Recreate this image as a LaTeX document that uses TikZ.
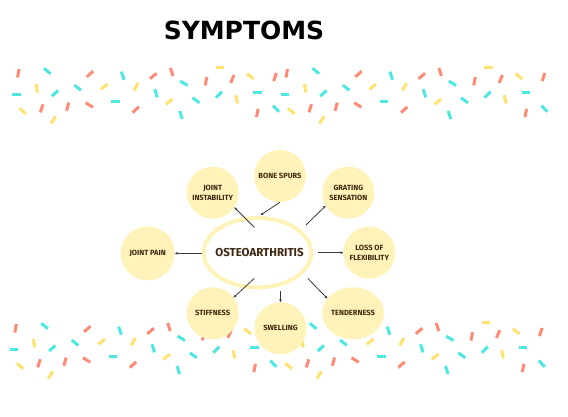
\documentclass[tikz,border=0pt]{standalone}
\usepackage{fontspec}
\setmainfont{Fira Sans}
\newfontfamily\titlefont{DejaVu Sans}
\usetikzlibrary{shapes.geometric,calc,arrows.meta}

\definecolor{bubbleyellow}{HTML}{FFF3B9}
\definecolor{labelbrown}{HTML}{3F2710}
\definecolor{linkgray}{HTML}{3A3A3A}
\definecolor{sprRed}{HTML}{FF8B76}
\definecolor{sprCyan}{HTML}{4DE9E1}
\definecolor{sprYellow}{HTML}{FFE270}

% one tile of sprinkles, shifted by #1,#2
\newcommand{\sprinkles}[2]{%
  \foreach \px/\py/\ang/\col in {
    18.3/73.3/-80/sprRed, 47.3/71/40/sprCyan, 16.7/94.3/0/sprCyan,
    36.7/88.3/80/sprYellow, 22.7/111/40/sprYellow, 41.7/108.3/-72/sprRed,
    55/93.3/-42/sprCyan, 53.3/120/-58/sprYellow, 67.7/106.7/-75/sprRed,
    77.7/87.7/38/sprCyan, 90/74/-42/sprRed, 89.3/105/32/sprRed,
    104.3/86.7/-38/sprYellow, 115.7/101.3/0/sprCyan, 122.7/75.7/72/sprCyan,
    136/86.7/-60/sprYellow, 135.7/109.7/-42/sprRed, 153.3/76/-40/sprRed,
    156/93.3/74/sprCyan, 171.7/72/73/sprRed, 184/83.3/31/sprCyan,
    169.3/101.7/-38/sprYellow, 181/115/73/sprCyan, 196/100.3/36/sprCyan,
    206/81.3/-79/sprRed, 220/67.3/0/sprYellow, 219/94.7/-44/sprCyan,
    232.3/79/-67/sprRed, 236.7/99.3/77/sprYellow, 250.3/76.3/39/sprYellow,
    257.3/92.7/0/sprCyan, 257.3/113/-79/sprRed, 275/77/-72/sprRed,
    276/108.7/46/sprCyan}
  {
    \draw[sprinkle, draw=\col] (\px+#1,\py+#2) ++(\ang:-4.25) -- ++(\ang:8.5);
  }%
}

\tikzset{
  bubble/.style={circle, fill=bubbleyellow, minimum size=52pt, inner sep=0pt,
    align=center, text=labelbrown, font=\bfseries\fontsize{7.5}{9.7}\selectfont},
  link/.style={draw=linkgray, line width=0.8pt, -{Stealth[length=2.8pt,width=2.8pt]}},
  sprinkle/.style={line width=3pt},
}

\begin{document}
\begin{tikzpicture}[x=1pt,y=-1pt]
  \fill[white] (0,0) rectangle (568,416);
  \useasboundingbox (0,0) rectangle (568,416);

  % sprinkle bands
  \sprinkles{0}{0}
  \sprinkles{268.5}{0}
  \sprinkles{-2.7}{255}
  \sprinkles{265.8}{255}

  % title
  \node[inner sep=0pt] (title) at (244,30.5)
    {\titlefont\bfseries\fontsize{25}{25}\selectfont SYMPTOMS};

  % centre
  \node[ellipse, draw=bubbleyellow, line width=4pt, fill=white,
    minimum width=107.6pt, minimum height=69.4pt, inner sep=0pt,
    text=labelbrown, font=\bfseries\fontsize{11.5}{12}\selectfont]
    (oa) at (257.5,252.7) {\makebox[0pt]{\hspace*{4pt}OSTEOARTHRITIS}};

  % symptoms
  \node[bubble] (spurs) at (280,176) {BONE SPURS};
  \node[bubble] (inst) at (212.7,192.7) {JOINT\\INSTABILITY};
  \node[bubble] (grat) at (348.3,192.7) {GRATING\\SENSATION};
  \node[bubble, minimum size=54pt] (jpain) at (147.7,253.3) {JOINT PAIN};
  \node[bubble] (flex) at (369.3,252.7) {LOSS OF\\FLEXIBILITY};
  \node[bubble] (stiff) at (212.7,313.3) {STIFFNESS};
  \node[bubble] (swell) at (280.5,328.3) {SWELLING};
  \node[bubble, ellipse, minimum width=60.6pt, minimum height=52pt]
    (tend) at (353,313.3) {TENDERNESS};

  % links
  \draw[link] ($(oa)+(-3.2,-25.4)$) -- (inst.-34);
  \draw[link] (spurs.-90) -- ($(oa)+(3.2,-37.7)$);
  \draw[link] ($(oa)+(48.5,-27.7)$) -- (grat.210);
  \draw[link] ($(oa)+(-55.8,0.6)$) -- (jpain.east);
  \draw[link] ($(oa)+(60.3,0)$) -- (flex.west);
  \draw[link] ($(oa)+(-3.2,25.6)$) -- (stiff.37);
  \draw[link] ($(oa)+(23,37.8)$) -- (swell.north);
  \draw[link] ($(oa)+(50.2,25.6)$) -- (tend.150);
\end{tikzpicture}
\end{document}
